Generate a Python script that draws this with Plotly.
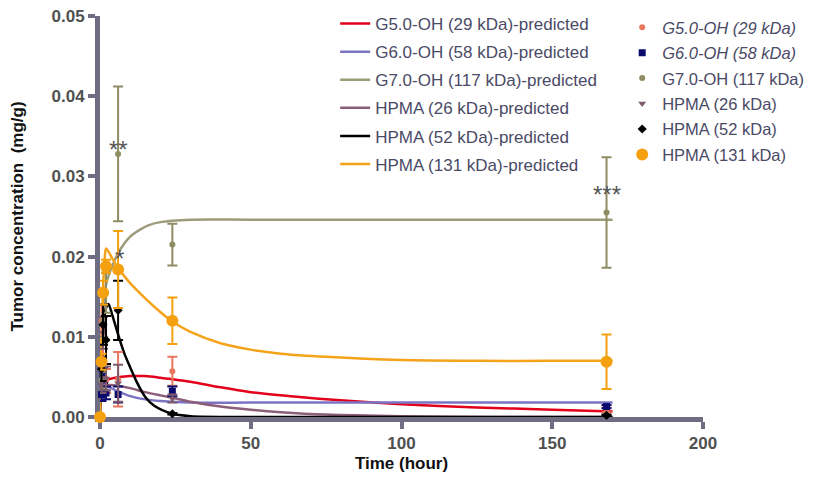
import plotly.graph_objects as go

# ---- predicted curves ----
t_red = [0, 2, 5, 10, 15, 20, 24, 30, 40, 50, 60, 75, 100, 125, 150, 170]
y_red = [0.0042, 0.0046, 0.0049, 0.0051, 0.0051, 0.0049, 0.0047, 0.0044, 0.0037, 0.0031, 0.0027, 0.0022, 0.0016, 0.0012, 0.0009, 0.0007]

t_blue = [0, 1, 3, 6, 10, 15, 20, 30, 50, 100, 170]
y_blue = [0.0035, 0.0038, 0.0037, 0.0032, 0.0026, 0.0022, 0.0020, 0.0018, 0.0018, 0.0018, 0.0018]

t_olive = [0, 0.5, 1, 2, 3, 4, 6, 8, 10, 13, 16, 20, 30, 50, 100, 170]
y_olive = [0.0, 0.0080, 0.0120, 0.0165, 0.0178, 0.0188, 0.0204, 0.0216, 0.0225, 0.0233, 0.0239, 0.0243, 0.0246, 0.0246, 0.0246, 0.0246]

t_purple = [0, 1, 3, 6, 10, 15, 20, 24, 30, 40, 50, 60, 75, 100, 130, 170]
y_purple = [0.0030, 0.0038, 0.0040, 0.0039, 0.0036, 0.0031, 0.0027, 0.0024, 0.0019, 0.0013, 0.0009, 0.0006, 0.0003, 0.0001, 0.0, 0.0]

t_black = [0, 0.5, 1, 1.5, 2, 2.8, 4, 6, 8, 10, 12, 15, 18, 24, 30, 50, 100, 170]
y_black = [0.0, 0.0060, 0.0100, 0.0125, 0.0136, 0.0141, 0.0128, 0.0103, 0.0080, 0.0062, 0.0045, 0.0025, 0.0014, 0.0004, 0.0001, 0.0, 0.0, 0.0]

t_orange = [0, 0.5, 1, 1.5, 2, 3, 4, 6, 8, 10, 15, 20, 24, 30, 40, 50, 60, 75, 100, 125, 150, 170]
y_orange = [0.0, 0.0100, 0.0160, 0.0195, 0.0210, 0.0205, 0.0198, 0.0186, 0.0176, 0.0167, 0.0148, 0.0131, 0.0119, 0.0106, 0.0092, 0.0084, 0.0079, 0.0075, 0.0071, 0.0070, 0.0070, 0.0070]

# ---- measured data ----
t_obs = [0, 0.5, 1, 2, 6, 24, 168]
g5_y = [0, 0.0120, 0.0070, 0.0045, 0.0047, 0.0057, 0.0009]
g5_e = [0, 0.0020, 0.0020, 0.0015, 0.0034, 0.0018, 0.0003]
g6_y = [0, 0.0028, 0.0052, 0.0030, 0.0028, 0.0032, 0.0013]
g6_e = [0, 0.0008, 0.0010, 0.0008, 0.0010, 0.0006, 0.0002]
g7_y = [0, 0.0046, 0.0120, 0.0155, 0.0328, 0.0215, 0.0255]
g7_e = [0, 0.0010, 0.0020, 0.0025, 0.0084, 0.0026, 0.0069]
h26_y = [0, 0.0040, 0.0105, 0.0048, 0.0042, 0.0023, 0.0001]
h26_e = [0, 0.0010, 0.0020, 0.0015, 0.0023, 0.0005, 0.0001]
h52_y = [0, 0.0060, 0.0115, 0.0096, 0.0133, 0.0004, 0.0002]
h52_e = [0, 0.0015, 0.0025, 0.0030, 0.0037, 0.0001, 0.0001]
h131_y = [0, 0.0069, 0.0155, 0.0188, 0.0184, 0.0120, 0.0069]
h131_e = [0, 0.0010, 0.0015, 0.0008, 0.0048, 0.0029, 0.0034]

line_names = ["G5.0-OH (29 kDa)-predicted", "G6.0-OH (58 kDa)-predicted",
              "G7.0-OH (117 kDa)-predicted", "HPMA (26 kDa)-predicted",
              "HPMA (52 kDa)-predicted", "HPMA (131 kDa)-predicted"]
pt_names = ["<i>G5.0-OH (29 kDa)</i>", "<i>G6.0-OH (58 kDa)</i>", "G7.0-OH (117 kDa)",
            "HPMA (26 kDa)", "HPMA (52 kDa)", "HPMA (131 kDa)"]

line_colors = ["#e3001b", "#7b74c4", "#9c9b7a", "#8c5e79", "#000000", "#f5a31a"]
pt_colors = ["#e8775e", "#0b0b6e", "#8d8c62", "#7d5a6e", "#000000", "#f5a00f"]
pt_symbols = ["circle", "square", "circle", "triangle-down", "diamond", "circle"]
pt_sizes = [6, 7, 6, 7, 7, 12]

curves = [(t_red, y_red), (t_blue, y_blue), (t_olive, y_olive),
          (t_purple, y_purple), (t_black, y_black), (t_orange, y_orange)]
obs = [(g5_y, g5_e), (g6_y, g6_e), (g7_y, g7_e), (h26_y, h26_e), (h52_y, h52_e), (h131_y, h131_e)]

fig = go.Figure()
for i, (tt, yy) in enumerate(curves):
    fig.add_trace(go.Scatter(x=tt, y=yy, mode="lines", name=line_names[i],
                             line=dict(color=line_colors[i], width=2.5, shape="spline", smoothing=0.8),
                             legend="legend", legendgroup="l%d" % i, cliponaxis=False))
for i, (yy, ee) in enumerate(obs):
    fig.add_trace(go.Scatter(x=t_obs, y=yy, mode="markers", name=pt_names[i],
                             marker=dict(color=pt_colors[i], symbol=pt_symbols[i], size=pt_sizes[i]),
                             error_y=dict(type="data", array=ee, color=pt_colors[i], thickness=2, width=5),
                             legend="legend2", legendgroup="p%d" % i, cliponaxis=False))

ann_font = dict(family="Liberation Sans, Arial", size=24, color="#555555")
fig.add_annotation(x=t_obs[4], y=g7_y[4], text="**", showarrow=False, yshift=4, font=ann_font)
fig.add_annotation(x=t_obs[4], y=h131_y[4] + h131_e[4], text="*", showarrow=False, yshift=-28, xshift=1, font=ann_font)
fig.add_annotation(x=t_obs[6], y=g7_y[6], text="***", showarrow=False, yshift=18, font=ann_font)

axis_col = "#6e6d82"
tick_font = dict(family="Liberation Sans, Arial", size=17, color="#505050", weight="bold")
title_font = dict(family="Liberation Sans, Arial", size=17, color="#111111", weight="bold")
leg_font = dict(family="Liberation Sans, Arial", size=17, color="#4a4a66")
leg2_font = dict(family="Liberation Sans, Arial", size=16.5, color="#4a4a66")
# the page body adds an 8px margin, so the figure is sized to fit the window
fig.update_layout(
    width=811, height=469,
    margin=dict(l=92, r=116, t=8, b=60, autoexpand=False),
    paper_bgcolor="white", plot_bgcolor="white",
    font=dict(family="Liberation Sans, Arial"),
    xaxis=dict(range=[0, 200], tickvals=[0, 50, 100, 150, 200], showgrid=False, zeroline=False,
               showline=True, linecolor=axis_col, linewidth=5, ticks="outside", ticklen=7,
               tickwidth=4, tickcolor=axis_col, tickfont=tick_font, automargin=False,
               ticklabeloverflow="allow", layer="below traces",
               title=dict(text="Time (hour)", font=title_font, standoff=6)),
    yaxis=dict(range=[0, 0.05], tickvals=[0, 0.01, 0.02, 0.03, 0.04, 0.05], tickformat=".2f",
               showgrid=False, zeroline=False, showline=True, linecolor=axis_col, linewidth=5,
               ticks="outside", ticklen=7, tickwidth=4, tickcolor=axis_col, tickfont=tick_font,
               automargin=False, ticklabeloverflow="allow", layer="below traces",
               title=dict(text="Tumor concentration  (mg/g)", font=title_font, standoff=27)),
    legend=dict(x=0.39, y=1.025, xanchor="left", yanchor="top", bgcolor="rgba(0,0,0,0)",
                font=leg_font, tracegroupgap=3),
    legend2=dict(x=0.866, y=1.015, xanchor="left", yanchor="top", bgcolor="rgba(0,0,0,0)",
                 font=leg2_font, tracegroupgap=1),
    showlegend=True,
)
fig.write_html("out.html")
